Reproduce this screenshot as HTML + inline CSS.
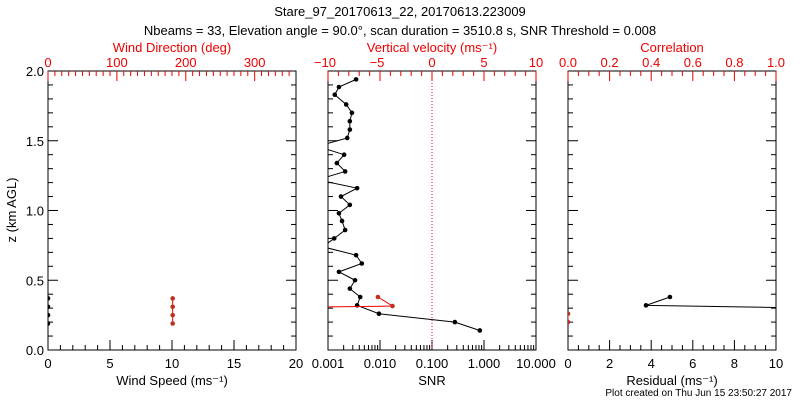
<!DOCTYPE html>
<html><head><meta charset="utf-8"><style>
body{margin:0;background:#fff}
svg text{font-family:"Liberation Sans",sans-serif;font-size:13px}
</style></head><body>
<svg id="c" width="800" height="400"></svg>
<script>
// data
const snrZ=[1.94,1.885,1.83,1.76,1.70,1.64,1.58,1.52,1.46,1.40,1.34,1.28,1.22,1.16,1.10,1.04,0.98,0.925,0.86,0.80,0.74,0.68,0.62,0.56,0.50,0.44,0.38,0.32,0.26,0.20,0.14];
const snrLog=[-2.46,-2.79,-2.87,-2.65,-2.54,-2.58,-2.58,-2.63,-3.2,-2.69,-2.83,-2.67,-3.2,-2.44,-2.75,-2.58,-2.79,-2.73,-2.67,-2.88,-3.1,-2.46,-2.35,-2.79,-2.48,-2.58,-2.38,-2.44,-2.02,-0.56,-0.08];
const velZ=[0.38,0.315,0.305];
const velVals=[-5.2,-3.8,-14];
const spdZ=[0.37,0.31,0.25,0.19];
const spdVals=[0,0,0,0];
const dirVals=[181,181,181,181];
const resZ=[0.38,0.32,0.30];
const resVals=[4.9,3.75,12];
const corZ=[0.26,0.20];
const corVals=[0,0];

const S=document.getElementById('c'),NS='http://www.w3.org/2000/svg';
function el(t,a,txt){const e=document.createElementNS(NS,t);for(const k in a)e.setAttribute(k,a[k]);if(txt!==undefined)e.textContent=txt;S.appendChild(e);return e;}
const Y0=350,Y1=71;
const yS=z=>Y0-(z/2)*(Y0-Y1);
function lin(x0,x1,a,b){return v=>x0+(v-a)/(b-a)*(x1-x0);}
function txt(x,y,s,col,anchor,name,size){const t=el('text',{x:x,y:y,fill:col||'#000','text-anchor':anchor||'middle'},s);if(size)t.style.fontSize=size+'px';return t;}
function tick(x1,y1,x2,y2,col){const l=el('line',{x1,y1,x2,y2,stroke:col,'stroke-width':1});}

// titles
txt(400,16,'Stare_97_20170613_22, 20170613.223009','#000','middle','chart-title');
txt(400,35,'Nbeams = 33, Elevation angle = 90.0°, scan duration = 3510.8 s, SNR Threshold = 0.008','#000','middle','chart-subtitle');
const yl=txt(16,210,'z (km AGL)','#000','middle','y-axis-title');yl.setAttribute('transform','rotate(-90 16 210)');
txt(792,396,'Plot created on Thu Jun 15 23:50:27 2017','#000','end','footer-note',10);

const panels=[[48,296],[328,536],[568,776]];
panels.forEach((p,i)=>{
  const r=el('rect',{x:p[0],y:Y1,width:p[1]-p[0],height:Y0-Y1,fill:'none',stroke:'#000'});
  
  for(let k=0;k<=20;k++){const y=yS(k/10),L=k%5==0?10:5;tick(p[0],y,p[0]+L,y,'#000');tick(p[1],y,p[1]-L,y,'#000');}
});
for(let k=0;k<=4;k++)txt(44,yS(k/2)+5,(k/2).toFixed(1),'#000','end','y-tick-label');

// panel 1
const sx=lin(48,296,0,20),dx=lin(48,296,0,360);
for(let v=0;v<=20;v++){tick(sx(v),Y0,sx(v),Y0-(v%5==0?10:5),'#000');}
for(let v=0;v<=20;v+=5)txt(sx(v),368,String(v),'#000','middle','speed-tick-label');
txt(172,385,'Wind Speed (ms⁻¹)','#000','middle','x-axis-title-speed');
for(let v=0;v<=350;v+=10){tick(dx(v),Y1,dx(v),Y1+(v%100==0?10:5),'#e00');}
for(let v=0;v<=300;v+=100)txt(dx(v),67,String(v),'#e00','middle','direction-tick-label');
txt(172,52,'Wind Direction (deg)','#e00','middle','x-axis-title-direction');

function series(xs,ys,fx,col,name,clip,dotcol){
  const pts=xs.map((v,i)=>fx(v)+','+yS(ys[i])).join(' ');
  const pl=el('polyline',{points:pts,fill:'none',stroke:col,'stroke-width':1,'clip-path':clip?'url(#'+clip+')':''});
  
  xs.forEach((v,i)=>{const c=el('circle',{cx:fx(v),cy:yS(ys[i]),r:2.3,fill:dotcol||col,'clip-path':clip?'url(#'+clip+')':''});});
}
const defs=el('defs',{});
panels.forEach((p,i)=>{const cp=document.createElementNS(NS,'clipPath');cp.setAttribute('id','cp'+i);const rr=document.createElementNS(NS,'rect');rr.setAttribute('x',p[0]);rr.setAttribute('y',Y1);rr.setAttribute('width',p[1]-p[0]);rr.setAttribute('height',Y0-Y1);cp.appendChild(rr);defs.appendChild(cp);});
series(spdVals,spdZ,sx,'#000','wind-speed','cp0');
series(dirVals,spdZ,dx,'#e00','wind-direction','cp0','#c03020');

// panel 2
const lx=lin(328,536,-3,1),vx=lin(328,536,-10,10);
for(let d=-3;d<=1;d++){tick(lx(d),Y0,lx(d),Y0-10,'#000');if(d<1)for(let m=2;m<10;m++){const x=lx(d+Math.log10(m));tick(x,Y0,x,Y0-5,'#000');}}
['0.001','0.010','0.100','1.000','10.000'].forEach((s,i)=>txt(lx(i-3),368,s,'#000','middle','snr-tick-label'));
txt(432,385,'SNR','#000','middle','x-axis-title-snr');
for(let v=-10;v<=10;v++)tick(vx(v),Y1,vx(v),Y1+(v%5==0?10:5),'#e00');
for(let v=-10;v<=10;v+=5)txt(vx(v)+(v<0?-3:0),67,v<0?'−'+(-v):String(v),'#e00','middle','velocity-tick-label');
txt(432,52,'Vertical velocity (ms⁻¹)','#e00','middle','x-axis-title-velocity');
const zl=el('line',{x1:vx(0),y1:Y1,x2:vx(0),y2:Y0,stroke:'#e00','stroke-dasharray':'1,2'});
series(snrLog,snrZ,lx,'#000','snr','cp1');
series(velVals,velZ,vx,'#e00','vertical-velocity','cp1','#c03020');

// panel 3
const rx=lin(568,776,0,10),cx=lin(568,776,0,1);
for(let k=0;k<=20;k++){const v=k/2;tick(rx(v),Y0,rx(v),Y0-(k%4==0?10:5),'#000');}
for(let v=0;v<=10;v+=2)txt(rx(v),368,String(v),'#000','middle','residual-tick-label');
txt(672,385,'Residual (ms⁻¹)','#000','middle','x-axis-title-residual');
for(let k=0;k<=20;k++){const v=k/20;tick(cx(v),Y1,cx(v),Y1+(k%4==0?10:5),'#e00');}
for(let k=0;k<=5;k++)txt(cx(k/5),67,(k/5).toFixed(1),'#e00','middle','correlation-tick-label');
txt(672,52,'Correlation','#e00','middle','x-axis-title-correlation');
series(resVals,resZ,rx,'#000','residual','cp2');
series(corVals,corZ,cx,'#e00','correlation','cp2','#c03020');
</script>
</body></html>
